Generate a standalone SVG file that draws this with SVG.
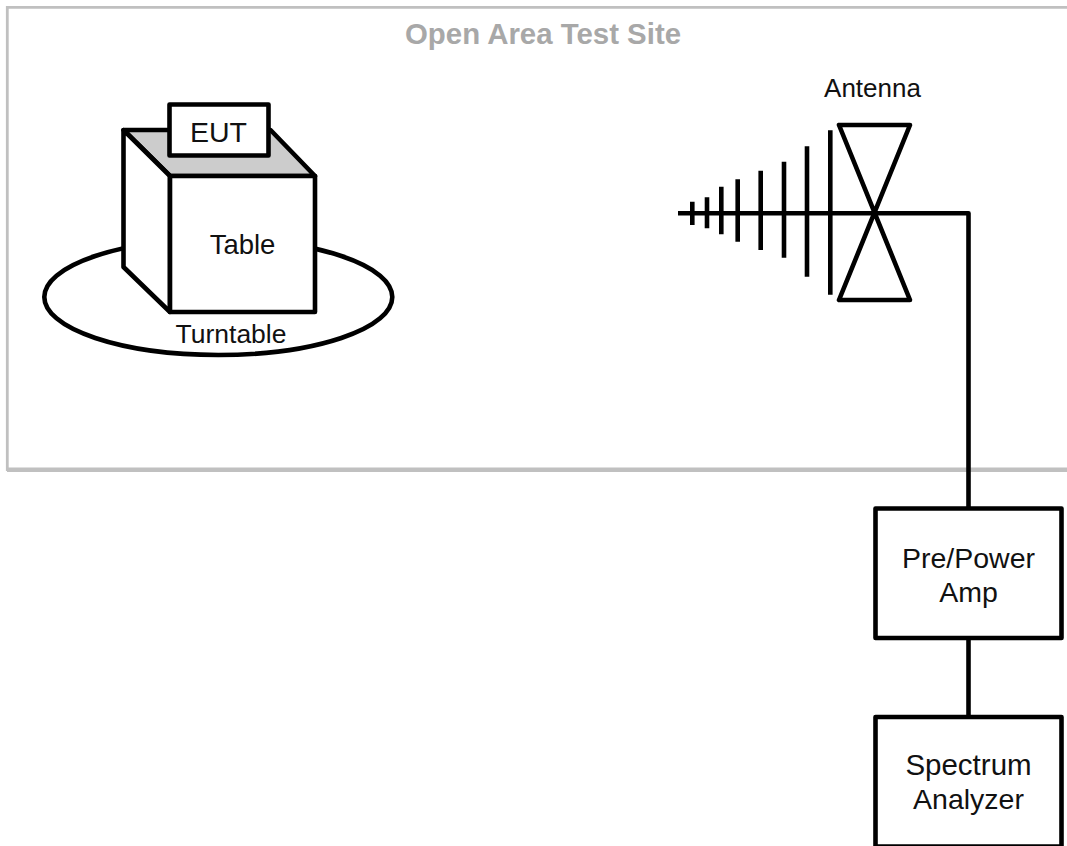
<svg xmlns="http://www.w3.org/2000/svg" width="1067" height="846" viewBox="0 0 1067 846">
<style>
.s{fill:none;stroke:#000;stroke-width:4.600;stroke-linejoin:round;stroke-linecap:butt}
.w{fill:#fff;stroke:#000;stroke-width:4.600;stroke-linejoin:round}
text{font-family:"Liberation Sans",Arial,sans-serif;fill:#111;text-anchor:middle}
</style>
<rect width="1067" height="846" fill="#fff"/>
<g id="site">
<path d="M1067 7.300H7.300V469.700H1067" fill="none" stroke="#c0c0c0" stroke-width="2.800"/>
<path d="M7 469.800H1067" fill="none" stroke="#c0c0c0" stroke-width="4.400"/>
<text x="543" y="44" font-size="29.400" font-weight="700" style="fill:#a8a8a8">Open Area Test Site</text>
</g>
<g id="connectors">
<path class="s" d="M678 213.300H968.500V508.500"/>
<path class="s" d="M968.500 638V717"/>
</g>
<g id="turntable">
<ellipse cx="218.300" cy="297" rx="174" ry="58" class="s" stroke-width="4"/>
<text x="231" y="343" font-size="26.500">Turntable</text>
</g>
<g id="table">
<path d="M123.500 130H270.500L315 176H170Z" fill="#ccc" stroke="#000" stroke-width="4.600" stroke-linejoin="round"/>
<path class="w" d="M123.500 130L170 176V312L123.500 267Z"/>
<rect class="w" x="170" y="176" width="145" height="136"/>
<text x="242.500" y="254" font-size="27.500">Table</text>
</g>
<g id="eut">
<rect class="w" x="169.500" y="104.500" width="99" height="51"/>
<text x="218.500" y="142" font-size="28.500">EUT</text>
</g>
<g id="antenna">
<path class="s" d="M692.300 201.700V225M707 197.300V228.300M721.300 186.700V234.300M737.700 179.300V241.700M760.700 170.700V250M784 161.700V257.700M807 146.300V276.700M830.300 130.300V294.700"/>
<path class="s" d="M839 125H910L839 300H910Z"/>
<text x="872.500" y="97" font-size="26">Antenna</text>
</g>
<g id="amp">
<rect class="w" x="875.500" y="508.500" width="186" height="129.500"/>
<text x="968.500" y="568" font-size="28.500">Pre/Power</text>
<text x="968.500" y="602" font-size="28.500">Amp</text>
</g>
<g id="analyzer">
<rect class="w" x="875.500" y="717" width="186" height="129.500"/>
<text x="968.500" y="775" font-size="29.500">Spectrum</text>
<text x="968.500" y="809" font-size="28.500">Analyzer</text>
</g>
</svg>
